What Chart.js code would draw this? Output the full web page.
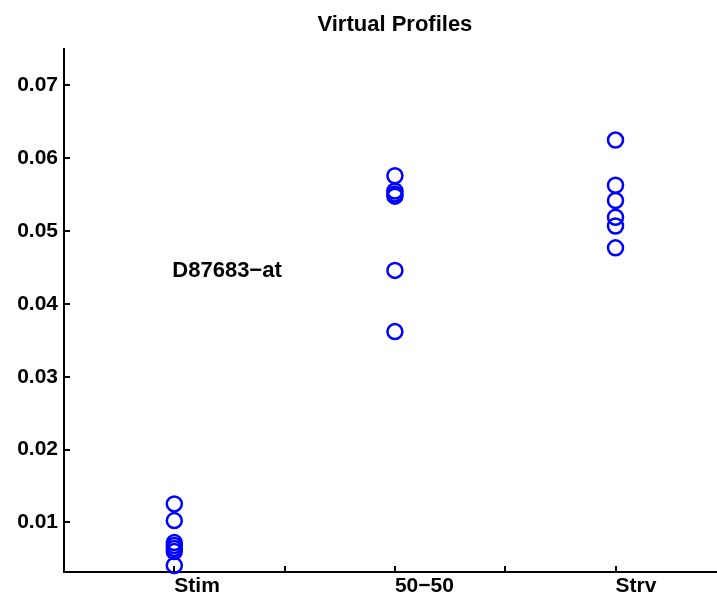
<!DOCTYPE html>
<html>
<head>
<meta charset="utf-8">
<script src="https://cdn.jsdelivr.net/npm/chart.js@4/dist/chart.umd.min.js"></script>
<style>
  html, body { margin: 0; padding: 0; background: #fff; overflow: hidden; }
  #chart { display: block; width: 717px; height: 596px; }
</style>
</head>
<body>
<canvas id="chart" width="717" height="596"></canvas>
<script>
// categories and values
const categories = ['Stim', '50−50', 'Strv'];
const stimValues = [0.01255, 0.01026, 0.00724, 0.00683, 0.00642, 0.0060, 0.0041];
const fiftyValues = [0.0576, 0.0555, 0.0551, 0.0548, 0.0446, 0.0362];
const strvValues = [0.0625, 0.0563, 0.0542, 0.0519, 0.0507, 0.0477];

const xTickValues = [1, 1.5, 2, 2.5, 3];
const yTickValues = [0.01, 0.02, 0.03, 0.04, 0.05, 0.06, 0.07];

const titleText = 'Virtual Profiles';
const annotation = { text: 'D87683−at', x: 1, y: 0.0445 };

const FONT = 'Liberation Sans, Arial, Helvetica, sans-serif';

// build points: each group sits at its category index
const groups = [stimValues, fiftyValues, strvValues];
const points = [];
groups.forEach((vals, i) => {
    vals.forEach(v => points.push({ x: i + 1, y: v }));
});

// inward tick marks (MATLAB style), title over the axes box, text annotation
const matlabBits = {
    id: 'matlabBits',
    afterDraw(chart) {
        const ctx = chart.ctx;
        const xs = chart.scales.x, ys = chart.scales.y;
        const area = chart.chartArea;
        ctx.save();
        ctx.strokeStyle = '#000';
        ctx.lineWidth = 2;
        ctx.beginPath();
        yTickValues.forEach(v => {
            const py = Math.round(ys.getPixelForValue(v));
            ctx.moveTo(area.left, py);
            ctx.lineTo(area.left + 6, py);
        });
        xTickValues.forEach(v => {
            const px = Math.round(xs.getPixelForValue(v));
            ctx.moveTo(px, area.bottom);
            ctx.lineTo(px, area.bottom - 6);
        });
        ctx.stroke();

        ctx.fillStyle = '#000';
        ctx.font = 'bold 22px ' + FONT;
        // the axes box is centred on the middle category (it runs past the figure edge)
        ctx.textAlign = 'center';
        ctx.textBaseline = 'alphabetic';
        ctx.fillText(titleText, xs.getPixelForValue(2), 31);

        ctx.textAlign = 'left';
        ctx.textBaseline = 'middle';
        ctx.fillText(annotation.text, xs.getPixelForValue(annotation.x) - 2, ys.getPixelForValue(annotation.y));
        ctx.restore();
    }
};

new Chart(document.getElementById('chart'), {
    type: 'scatter',
    data: {
        datasets: [{
            data: points,
            borderColor: '#0000ff',
            backgroundColor: 'rgba(0,0,0,0)',
            pointBorderColor: '#0000ff',
            pointBackgroundColor: 'rgba(0,0,0,0)',
            pointBorderWidth: 2.5,
            pointRadius: 7.5,
            pointHoverRadius: 7.5,
            clip: false
        }]
    },
    options: {
        responsive: false,
        animation: false,
        layout: { autoPadding: false, padding: { left: 0, right: 0, top: 49, bottom: 0 } },
        plugins: {
            legend: { display: false },
            tooltip: { enabled: false },
            title: { display: false }
        },
        scales: {
            x: {
                type: 'linear',
                min: 0.5,
                max: 3.46,
                border: { display: true, color: '#000', width: 2 },
                grid: { display: false, drawTicks: false },
                afterBuildTicks: scale => { scale.ticks = xTickValues.map(v => ({ value: v })); },
                afterFit: scale => { scale.height = 24; },
                ticks: {
                    align: 'start',
                    padding: 2,
                    maxRotation: 0,
                    autoSkip: false,
                    color: '#000',
                    font: { family: FONT, size: 21, weight: 'bold' },
                    callback: v => (Number.isInteger(v) ? categories[v - 1] : '')
                }
            },
            y: {
                min: 0.0032,
                max: 0.075,
                border: { display: true, color: '#000', width: 2 },
                grid: { display: false, drawTicks: false },
                afterBuildTicks: scale => { scale.ticks = yTickValues.map(v => ({ value: v })); },
                afterFit: scale => { scale.width = 64; },
                ticks: {
                    padding: 6,
                    color: '#000',
                    font: { family: FONT, size: 21, weight: 'bold' },
                    callback: v => v.toFixed(2)
                }
            }
        }
    },
    plugins: [matlabBits]
});
</script>
</body>
</html>
